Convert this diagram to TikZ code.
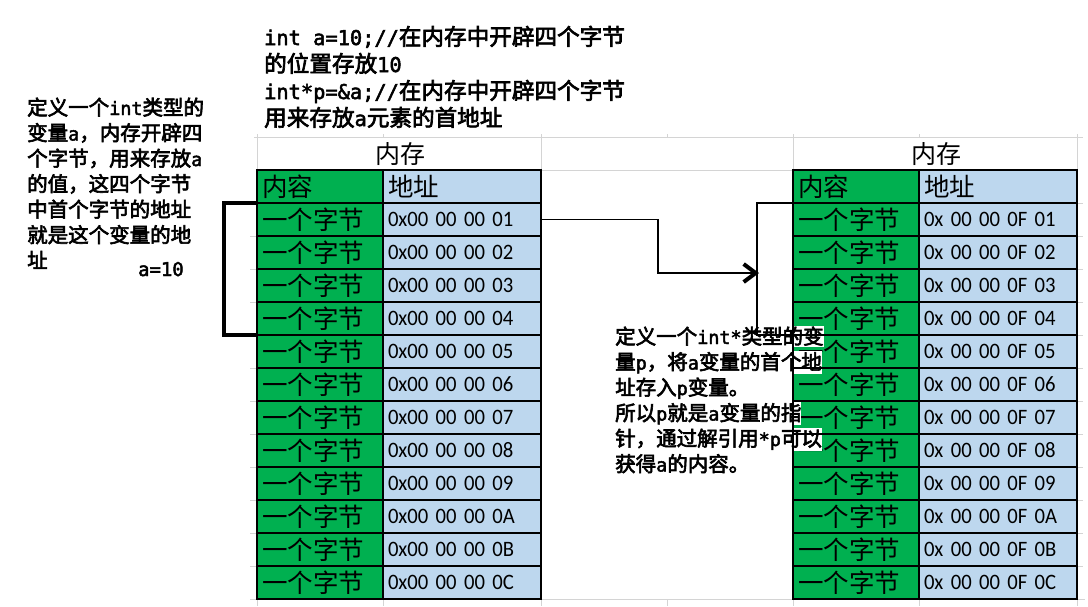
\documentclass[tikz,border=0pt]{standalone}
\usepackage{fontspec}
\setmainfont{Noto Sans CJK SC}
\newfontfamily\cjkf{Noto Sans CJK SC}
\newfontfamily\notef{Noto Sans CJK SC}[FakeBold=3]
\newfontfamily\addrf{Carlito}[FakeStretch=0.94]
\newfontfamily\monof{DejaVu Sans Mono}[Scale=0.9, FakeBold=2.5]
\usetikzlibrary{arrows.meta}
\definecolor{cgreen}{RGB}{0,176,80}
\definecolor{cblue}{RGB}{189,215,238}
\definecolor{gridg}{RGB}{212,212,212}
\newcommand\mn[1]{{\monof #1}}
\tikzset{
  cellc/.style={draw=black, line width=1.3pt, fill=cgreen, minimum height=33pt,
    text width=116pt, inner xsep=5pt, inner ysep=0pt, outer sep=0pt, align=left,
    font=\cjkf\fontsize{25.5}{27}\selectfont},
  cella/.style={cellc, fill=cblue, text width=148pt, font=\addrf\fontsize{22}{24}\selectfont},
  memhead/.style={inner sep=0pt, font=\cjkf\fontsize{25}{27}\selectfont},
  codetxt/.style={anchor=base west, inner sep=0pt, font=\notef\fontsize{22.6}{27}\selectfont},
  notetxt/.style={anchor=base west, inner xsep=0pt, inner ysep=1pt, font=\notef\fontsize{20.5}{25}\selectfont},
  gridl/.style={draw=gridg, line width=1pt},
  tline/.style={draw=black, line width=1.3pt},
  conn/.style={draw=black, line width=1.3pt},
  bracketl/.style={draw=black, line width=4pt},
}
\begin{document}
\begin{tikzpicture}[x=1pt,y=-1pt]
\useasboundingbox (0,0) rectangle (1088,606);
% spreadsheet grid
\draw[gridl] (254,137) -- (1083,137);
\foreach \gx in {257,541,793,1077} \draw[gridl] (\gx,134) -- (\gx,170);
\foreach \gx in {383,667,919} \draw[gridl] (\gx,134) -- (\gx,137);
\draw[gridl] (541,170) -- (793,170);
\draw[gridl] (250,599) -- (1085,599);
\foreach \gx in {257,383,541,667,793,919,1077} \draw[gridl] (\gx,599) -- (\gx,606);
\foreach \k in {0,...,12} {
  \draw[gridl] (250,203+33*\k) -- (257,203+33*\k);
  \draw[gridl] (1077,203+33*\k) -- (1083,203+33*\k);
}
% tables
\node[memhead] (Lmem) at (400,154) {内存};
\node[memhead] (Rmem) at (936,154) {内存};
\node[cellc] (Lhc) at (320,186.5) {内容};
\node[cella, font=\cjkf\fontsize{25.5}{27}\selectfont] (Lha) at (462,186.5) {地址};
\node[cellc] (Rhc) at (856,186.5) {内容};
\node[cella, font=\cjkf\fontsize{25.5}{27}\selectfont] (Rha) at (998,186.5) {地址};
\foreach \i/\h in {1/01,2/02,3/03,4/04,5/05,6/06,7/07,8/08,9/09,10/0A,11/0B,12/0C}{
  \pgfmathsetmacro\yy{219.5+33*(\i-1)}
  \node[cellc] (Lc\i) at (320,\yy) {一个字节};
  \node[cella] (La\i) at (462,\yy) {0x00 00 00 \h};
  \node[cellc] (Rc\i) at (856,\yy) {一个字节};
  \node[cella] (Ra\i) at (998,\yy) {0x 00 00 0F \h};
}
% code text
\node[codetxt] (code1) at (264,45) {\mn{int a=10;//}在内存中开辟四个字节};
\node[codetxt] (code2) at (264,72) {的位置存放\mn{10}};
\node[codetxt] (code3) at (264,99) {\mn{int*p=\&a;//}在内存中开辟四个字节};
\node[codetxt] (code4) at (264,126) {用来存放\mn{a}元素的首地址};
% left note
\node[notetxt] (ln1) at (27,115) {定义一个\mn{int}类型的};
\node[notetxt] (ln2) at (27,140.5) {变量\mn{a}，内存开辟四};
\node[notetxt] (ln3) at (27,166) {个字节，用来存放\mn{a}};
\node[notetxt] (ln4) at (27,191.5) {的值，这四个字节};
\node[notetxt] (ln5) at (27,217) {中首个字节的地址};
\node[notetxt] (ln6) at (27,242.5) {就是这个变量的地};
\node[notetxt] (ln7) at (27,268) {址};
\node[notetxt, font=\monof\fontsize{21}{25}\selectfont] (aval) at (138,276) {a=10};
% right note
\node[notetxt, fill=white] (rn1) at (615,344) {定义一个\mn{int*}类型的变};
\node[notetxt, fill=white] (rn2) at (615,369.5) {量\mn{p}，将\mn{a}变量的首个地};
\node[notetxt, fill=white] (rn3) at (615,395) {址存入\mn{p}变量。};
\node[notetxt, fill=white] (rn4) at (615,420.5) {所以\mn{p}就是\mn{a}变量的指};
\node[notetxt, fill=white] (rn5) at (615,446) {针，通过解引用\mn{*p}可以};
\node[notetxt, fill=white] (rn6) at (615,471.5) {获得\mn{a}的内容。};
% redraw right table borders over the note
\foreach \i in {1,...,12}{
  \draw[tline] (Rc\i.north west) rectangle (Ra\i.south east);
  \draw[tline] (Rc\i.north east) -- (Rc\i.south east);
}
% connectors
\coordinate (aend) at (759,273);
\draw[conn, -{Straight Barb[length=12pt,width=18pt,line width=4pt]}] (La1.east) -- ++(117,0) |- (aend);
\draw[conn] (Rc1.north west) -- ++(-36,0) |- (Rc4.south west);
\draw[bracketl] (Lc1.north west) -- ++(-33,0) |- (Lc4.south west);
\end{tikzpicture}
\end{document}
